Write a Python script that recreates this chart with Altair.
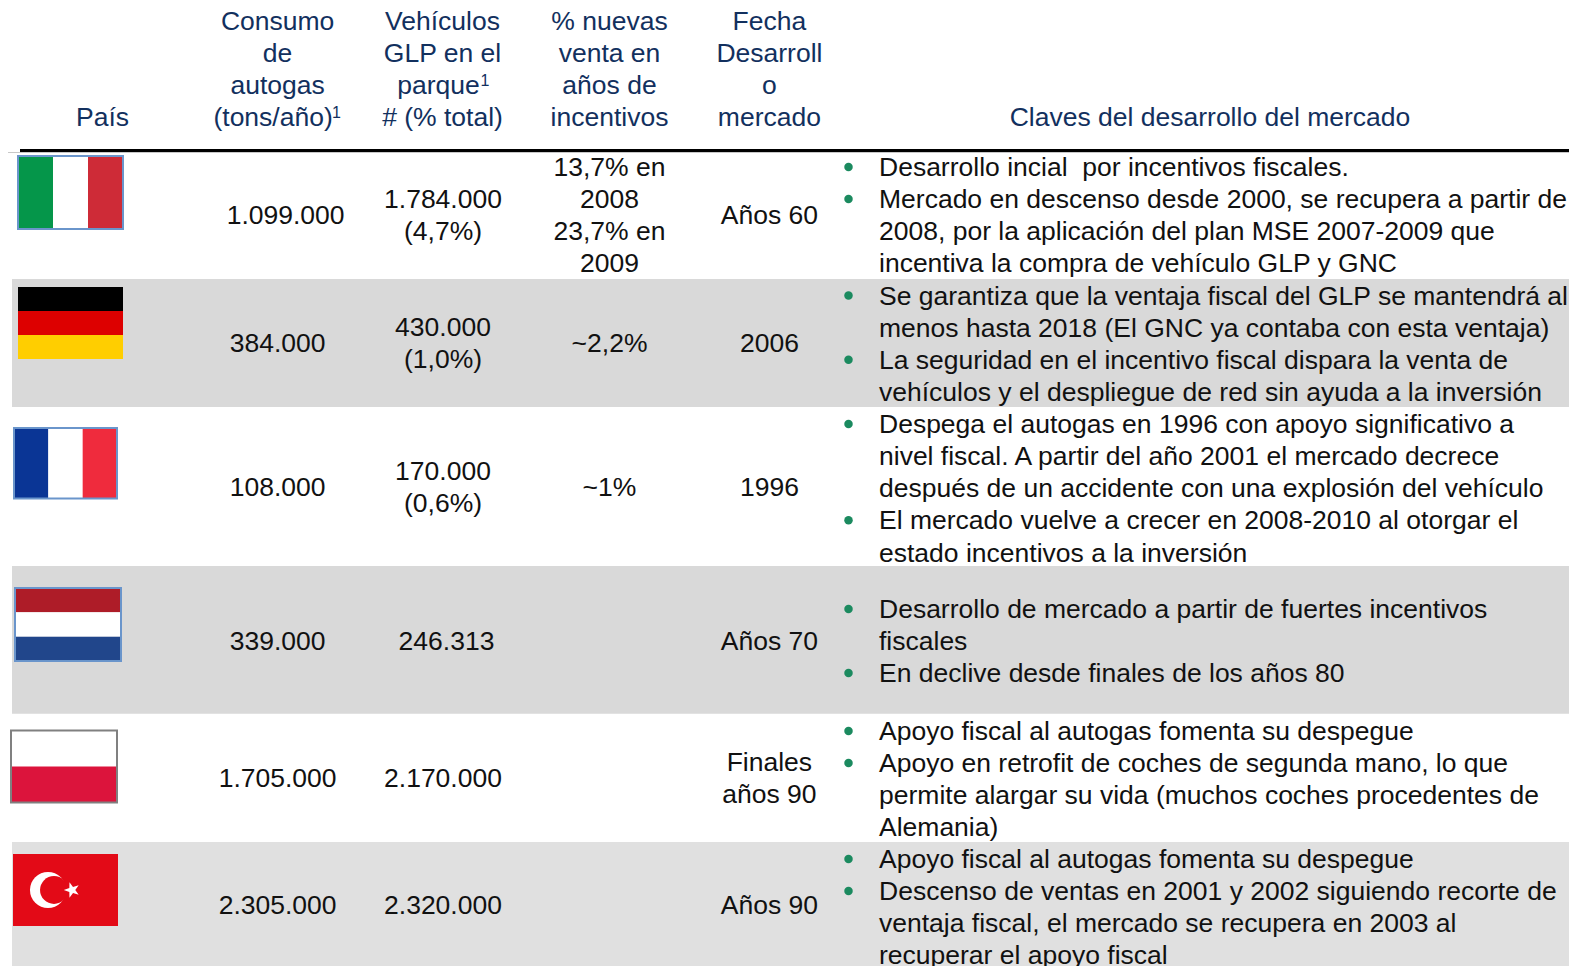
import altair as alt
import pandas as pd

# ---------- content ----------
headers = [
    ["País"],
    ["Consumo", "de", "autogas", "(tons/año)"],
    ["Vehículos", "GLP en el", "parque", "# (% total)"],
    ["% nuevas", "venta en", "años de", "incentivos"],
    ["Fecha", "Desarroll", "o", "mercado"],
    ["Claves del desarrollo del mercado"],
]
consumo = ["1.099.000", "384.000", "108.000", "339.000", "1.705.000", "2.305.000"]
vehiculos = [["1.784.000", "(4,7%)"], ["430.000", "(1,0%)"], ["170.000", "(0,6%)"],
             ["246.313"], ["2.170.000"], ["2.320.000"]]
nuevas = [["13,7% en", "2008", "23,7% en", "2009"], ["~2,2%"], ["~1%"], [], [], []]
fecha = [["Años 60"], ["2006"], ["1996"], ["Años 70"], ["Finales", "años 90"], ["Años 90"]]
claves = [
    [["Desarrollo incial\u00a0 por incentivos fiscales."],
     ["Mercado en descenso desde 2000, se recupera a partir de",
      "2008, por la aplicación del plan MSE 2007-2009 que",
      "incentiva la compra de vehículo GLP y GNC"]],
    [["Se garantiza que la ventaja fiscal del GLP se mantendrá al",
      "menos hasta 2018 (El GNC ya contaba con esta ventaja)"],
     ["La seguridad en el incentivo fiscal dispara la venta de",
      "vehículos y el despliegue de red sin ayuda a la inversión"]],
    [["Despega el autogas en 1996 con apoyo significativo a",
      "nivel fiscal. A partir del año 2001 el mercado decrece",
      "después de un accidente con una explosión del vehículo"],
     ["El mercado vuelve a crecer en 2008-2010 al otorgar el",
      "estado incentivos a la inversión"]],
    [["Desarrollo de mercado a partir de fuertes incentivos", "fiscales"],
     ["En declive desde finales de los años 80"]],
    [["Apoyo fiscal al autogas fomenta su despegue"],
     ["Apoyo en retrofit de coches de segunda mano, lo que",
      "permite alargar su vida (muchos coches procedentes de",
      "Alemania)"]],
    [["Apoyo fiscal al autogas fomenta su despegue"],
     ["Descenso de ventas en 2001 y 2002 siguiendo recorte de",
      "ventaja fiscal, el mercado se recupera en 2003 al",
      "recuperar el apoyo fiscal"]],
]
superscripts = ["1", "1"]

# ---------- layout ----------
R, H = 1569, 966
FONT = "Liberation Sans"
FS = 26.5
LH = 32.05
TEXT_DY = 1.3
NAVY, INK = "#12305E", "#111111"
header_x = [102.6, 277.6, 442.5, 609.5, 769.4, 1210]
col_x = [277.6, 443, 609.5, 769.4]
row_edges = [152, 279, 407, 566, 713.7, 842, 966]
row_center = [214.5, 343, 487, 641, 777.5, 905]
key_first = [167, 295.6, 424, 609, 731, 859]
band_fill = [None, "#D9D9D9", None, "#D9D9D9", None, "#E0E0E0"]

flags = [  # x0, y0, x1, y1, direction, stripes, border
    (18, 156, 123, 229, "v", ["#05964A", "#FFFFFF", "#CE2B37"], "#6A95CB"),
    (18, 287, 123, 359, "h", ["#000000", "#DD0000", "#FFCE00"], None),
    (14, 428, 117, 498.5, "v", ["#0A3595", "#FFFFFF", "#EF2B3D"], "#6A95CB"),
    (15, 588, 121, 661, "h", ["#AE1C28", "#FFFFFF", "#21468B"], "#6A95CB"),
    (11, 730.5, 117, 802.5, "h", ["#FFFFFF", "#DC143C"], "#808080"),
    (13, 854, 118, 926, "h", ["#E30A17"], None),
]

x_s = alt.Scale(domain=[8, R], range=[0, R - 8], nice=False, zero=False)
y_s = alt.Scale(domain=[8, H], range=[0, H - 8], nice=False, zero=False)
X = alt.X("x:Q", scale=x_s, axis=None)
Y = alt.Y("y:Q", scale=y_s, axis=None)
X0 = alt.X("x0:Q", scale=x_s, axis=None)
Y0 = alt.Y("y0:Q", scale=y_s, axis=None)


def stack(lines, centre):
    top = centre - (len(lines) - 1) * LH / 2
    return [top + i * LH for i in range(len(lines))]


# ---------- build tables ----------
texts, bullets, rects = [], [], []

HEADER_SHIFT = {"(tons/año)": -4.5, "parque": -4}
for cx, lines in zip(header_x, headers):
    for i, t in enumerate(lines):
        texts.append(dict(x=cx + HEADER_SHIFT.get(t, 0), y=117 + TEXT_DY - (len(lines) - 1 - i) * LH,
                          t=t, c=NAVY, a="center"))

for r in range(6):
    if band_fill[r]:
        rects.append(dict(x0=12, x2=R, y0=row_edges[r], y2=row_edges[r + 1], f=band_fill[r]))
    offs = 8 if r == 0 else 0
    texts.append(dict(x=col_x[0] + offs, y=row_center[r] + TEXT_DY, t=consumo[r], c=INK, a="center"))
    offv = 3.5 if r == 3 else 0
    for col, shift, vals in ((1, offv, vehiculos[r]), (2, 0, nuevas[r]), (3, 0, fecha[r])):
        for y, t in zip(stack(vals, row_center[r]), vals):
            texts.append(dict(x=col_x[col] + shift, y=y + TEXT_DY, t=t, c=INK, a="center"))
    line = 0
    for item in claves[r]:
        bullets.append(dict(x=848.5, y=key_first[r] + line * LH))
        for t in item:
            texts.append(dict(x=879, y=key_first[r] + TEXT_DY + line * LH, t=t, c=INK, a="left"))
            line += 1

flag_rects, borders = [], []
for x0, y0, x1, y1, d, cols, border in flags:
    n = len(cols)
    if border:
        borders.append(dict(x0=x0, x2=x1, y0=y0, y2=y1, s=border))
    for i, c in enumerate(cols):
        if d == "v":
            flag_rects.append(dict(x0=x0 + (x1 - x0) * i / n, x2=x0 + (x1 - x0) * (i + 1) / n, y0=y0, y2=y1, f=c))
        else:
            flag_rects.append(dict(x0=x0, x2=x1, y0=y0 + (y1 - y0) * i / n, y2=y0 + (y1 - y0) * (i + 1) / n, f=c))


def rect_layer(rows):
    return alt.Chart(pd.DataFrame(rows)).mark_rect().encode(
        x=X0, x2="x2:Q", y=Y0, y2="y2:Q",
        color=alt.Color("f:N", scale=None))


bands = rect_layer(rects)
grey_rule = rect_layer([dict(x0=8, x2=R, y0=152, y2=153, f="#C8C8C8")])
black_rule = rect_layer([dict(x0=20, x2=R, y0=149, y2=152, f="#000000")])
flag_layer = rect_layer(flag_rects)
border_layer = alt.Chart(pd.DataFrame(borders)).mark_rect(filled=False, strokeWidth=2).encode(
    x=X0, x2="x2:Q", y=Y0, y2="y2:Q",
    stroke=alt.Color("s:N", scale=None))

text_df = pd.DataFrame(texts)
text_layers = [
    alt.Chart(text_df[text_df.a == a]).mark_text(font=FONT, fontSize=FS, align=a, baseline="middle").encode(
        x=X, y=Y, text="t:N", color=alt.Color("c:N", scale=None))
    for a in ("center", "left")
]
sup_layer = alt.Chart(pd.DataFrame(dict(x=[336.5, 485], y=[113, 81], t=superscripts))).mark_text(
    font=FONT, fontSize=16, color=NAVY, align="center", baseline="middle").encode(x=X, y=Y, text="t:N")
bullet_layer = alt.Chart(pd.DataFrame(bullets)).mark_point(
    filled=True, size=72, opacity=1, color="#1B8A5F").encode(x=X, y=Y)

# Turkish crescent and star
star = "M0,-1L0.235,-0.324L0.951,-0.309L0.380,0.124L0.588,0.809L0,0.4L-0.588,0.809L-0.380,0.124L-0.951,-0.309L-0.235,-0.324Z"
crescent_o = alt.Chart(pd.DataFrame([dict(x=48, y=890)])).mark_point(
    filled=True, size=1300, opacity=1, color="#FFFFFF").encode(x=X, y=Y)
crescent_i = alt.Chart(pd.DataFrame([dict(x=54, y=890)])).mark_point(
    filled=True, size=780, opacity=1, color="#E30A17").encode(x=X, y=Y)
star_layer = alt.Chart(pd.DataFrame([dict(x=72, y=890)])).mark_point(
    filled=True, size=270, opacity=1, color="#FFFFFF", shape=star, angle=270).encode(x=X, y=Y)

chart = alt.layer(
    bands, grey_rule, black_rule, flag_layer, border_layer,
    crescent_o, crescent_i, star_layer, bullet_layer, *text_layers, sup_layer
).properties(
    width=R - 8, height=H - 8, padding=0,
    autosize=alt.AutoSizeParams(type="none"),
    background="#FFFFFF",
).configure_view(stroke=None)

chart.save("out.html", embed_options={"renderer": "svg", "actions": False})
